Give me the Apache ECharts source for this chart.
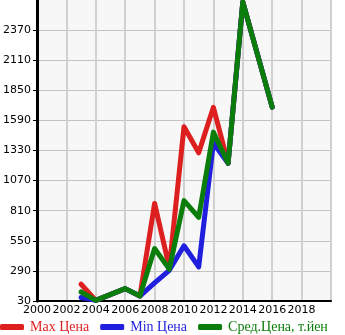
<!DOCTYPE html>
<html>
<head>
<meta charset="utf-8">
<style>
  html, body { margin: 0; padding: 0; background: #ffffff; }
  #chart { width: 345px; height: 335px; }
</style>
<script src="https://cdn.jsdelivr.net/npm/echarts@6/dist/echarts.min.js"></script>
</head>
<body>
<div id="chart"></div>
<script>
// Price history by year
const years = [2003, 2004, 2006, 2007, 2008, 2009, 2010, 2011, 2012, 2013, 2014, 2016];
const maxPrice = [175, 35, 137, 73, 873, 320, 1535, 1310, 1703, 1220, 2613, 1705];
const minPrice = [60, 35, 137, 73, 186, 295, 507, 325, 1395, 1220, 2613, 1705];
const avgPrice = [108, 35, 137, 73, 483, 305, 897, 752, 1489, 1220, 2613, 1705];

const yTicks = [30, 290, 550, 810, 1070, 1330, 1590, 1850, 2110, 2370];
const xStart = 2000, xEnd = 2020, xStep = 2;   // labels 2000 … 2018

const seriesNames = ['Max Цена', 'Min Цена', 'Сред.Цена, т.йен'];
const seriesColors = ['#dd1f1f', '#1f1fdd', '#0b7d0b'];

const pairs = arr => years.map((y, i) => [y, arr[i]]);

const chart = echarts.init(document.getElementById('chart'), null, { renderer: 'canvas' });

const lineSeries = [maxPrice, minPrice, avgPrice].map((vals, i) => ({
  name: seriesNames[i],
  type: 'line',
  data: pairs(vals),
  symbol: 'none',
  lineStyle: { width: 5, color: seriesColors[i], cap: 'round', join: 'round' },
  itemStyle: { color: seriesColors[i] },
  z: 2 + i,
  animation: false
}));

chart.setOption({
  animation: false,
  grid: {
    left: 31, right: 14, top: 0, bottom: 34,
    show: true, backgroundColor: '#f7f7f7', borderWidth: 0
  },
  legend: {
    left: 0, top: 320, padding: 0,
    itemWidth: 24, itemHeight: 6, itemGap: 11,
    icon: 'roundRect',
    data: seriesNames.map((n, i) => ({
      name: n,
      textStyle: { color: seriesColors[i] }
    })),
    textStyle: { fontFamily: 'Liberation Serif', fontSize: 14, padding: [0, 0, 0, 1] }
  },
  xAxis: {
    type: 'value',
    min: xStart, max: xEnd, interval: xStep,
    axisLine: { show: true, lineStyle: { color: '#000', width: 2 } },
    axisTick: { show: false },
    axisLabel: {
      showMaxLabel: false,
      color: '#000', fontFamily: 'DejaVu Sans', fontSize: 11, margin: 4,
      formatter: v => String(v)
    },
    splitLine: { show: true, lineStyle: { color: '#d0d0d0', width: 2 } }
  },
  yAxis: {
    type: 'value',
    min: 30, max: 2630,
    axisLine: { show: true, lineStyle: { color: '#000', width: 3 } },
    axisTick: { show: true, length: 4, lineStyle: { color: '#000' }, customValues: yTicks },
    axisLabel: {
      customValues: yTicks,
      color: '#000', fontFamily: 'DejaVu Sans', fontSize: 11, margin: 6,
      formatter: v => String(v)
    },
    splitLine: { show: true, lineStyle: { color: '#c3c3c3', width: 1 } }
  },
  series: lineSeries
});
</script>
</body>
</html>
